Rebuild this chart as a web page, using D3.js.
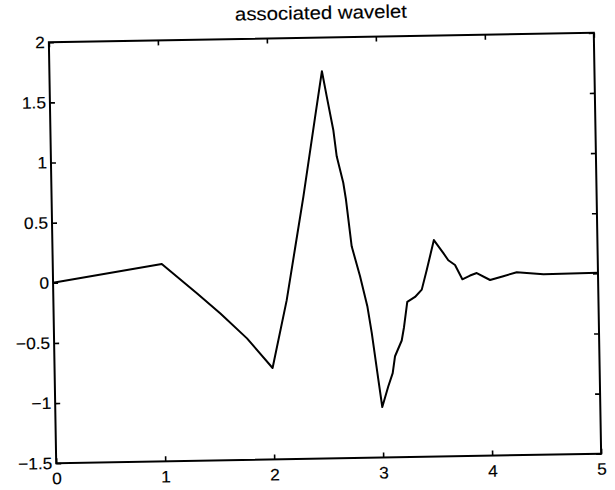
<!DOCTYPE html>
<html>
<head>
<meta charset="utf-8">
<script src="https://cdn.jsdelivr.net/npm/d3@7"></script>
<style>
  html, body { margin: 0; padding: 0; background: #fff; }
  svg { display: block; }
  text { font-family: "Liberation Sans", Arial, Helvetica, sans-serif; fill: #000; stroke: #000; stroke-width: 0.15px; }
</style>
</head>
<body>
<svg id="chart" width="615" height="490"></svg>
<script>
// Wavelet samples (position along support, amplitude)
const tValues = [0, 1, 1.32, 1.53, 1.77, 2, 2.14, 2.225, 2.31, 2.43, 2.5,
  2.54, 2.595, 2.622, 2.678, 2.7, 2.745, 2.817, 2.879, 2.915, 2.968, 3,
  3.058, 3.101, 3.125, 3.189, 3.212, 3.246, 3.318, 3.381, 3.429, 3.5,
  3.585, 3.629, 3.69, 3.755, 3.826, 3.888, 4.009, 4.131, 4.255, 4.5, 5];
const psiValues = [0, 0.14, -0.11, -0.28, -0.49, -0.74, -0.18, 0.25, 0.68, 1.34, 1.72,
  1.51, 1.23, 1.01, 0.79, 0.65, 0.26, 0.01, -0.24, -0.46, -0.85, -1.08,
  -0.91, -0.8, -0.66, -0.53, -0.42, -0.21, -0.17, -0.11, 0.05, 0.3,
  0.19, 0.13, 0.09, -0.03, 0.0, 0.02, -0.04, -0.01, 0.02, 0.0, 0.005];
const xTicks = [0, 1, 2, 3, 4, 5];
const yTicks = [-1.5, -1, -0.5, 0, 0.5, 1, 1.5, 2];
const titleText = "associated wavelet";

const svg = d3.select("#chart");
const box = { left: 52.5, right: 597.5, top: 37.5, bottom: 458.5 };
const widenTitle = 1.1;  // title glyphs are set slightly wide
const widenTick = 1.05;

// whole figure is tilted slightly counter-clockwise
const g = svg.append("g").attr("transform", "rotate(-1, 325, 248)");

const x = d3.scaleLinear().domain([0, 5]).range([box.left, box.right]);
const y = d3.scaleLinear().domain([-1.5, 2]).range([box.bottom, box.top]);

const fmt = d => d3.format("")(d).replace("-", "\u2212");

// title
g.append("text")
  .attr("transform", `translate(${(box.left + box.right) / 2},19) scale(${widenTitle},1)`)
  .attr("text-anchor", "middle")
  .style("font-size", "18.5px")
  .text(titleText);

// inward ticks on all four sides
const tickLen = 5;
const axisStyle = sel => sel.call(s => s.select(".domain").remove())
  .call(s => s.selectAll("line").attr("stroke", "#000").attr("stroke-width", 1.6));

const bottomAxis = g.append("g")
  .attr("transform", `translate(0,${box.bottom})`)
  .call(d3.axisBottom(x).tickValues(xTicks).tickSizeInner(-tickLen).tickSizeOuter(0).tickFormat(fmt));
axisStyle(bottomAxis);
bottomAxis.selectAll("text")
  .style("font-size", "16.5px")
  .attr("y", null).attr("dy", 0)
  .attr("transform", `translate(0,21) scale(${widenTick},1)`);

const topAxis = g.append("g")
  .attr("transform", `translate(0,${box.top})`)
  .call(d3.axisTop(x).tickValues(xTicks).tickSizeInner(-tickLen).tickSizeOuter(0).tickFormat(""));
axisStyle(topAxis);

const leftAxis = g.append("g")
  .attr("transform", `translate(${box.left},0)`)
  .call(d3.axisLeft(y).tickValues(yTicks).tickSizeInner(-tickLen).tickSizeOuter(0).tickFormat(fmt));
axisStyle(leftAxis);
leftAxis.selectAll("text")
  .style("font-size", "16.5px")
  .attr("x", null)
  .attr("transform", `translate(-4,0) scale(${widenTick},1)`);

const rightAxis = g.append("g")
  .attr("transform", `translate(${box.right},0)`)
  .call(d3.axisRight(y).tickValues(yTicks).tickSizeInner(-tickLen).tickSizeOuter(0).tickFormat(""));
axisStyle(rightAxis);

// frame
g.append("rect")
  .attr("x", box.left).attr("y", box.top)
  .attr("width", box.right - box.left).attr("height", box.bottom - box.top)
  .attr("fill", "none").attr("stroke", "#000").attr("stroke-width", 2);

// wavelet curve
const pts = tValues.map((t, i) => [t, psiValues[i]]);
g.append("path")
  .datum(pts)
  .attr("fill", "none")
  .attr("stroke", "#000")
  .attr("stroke-width", 2)
  .attr("stroke-linejoin", "round")
  .attr("d", d3.line().x(d => x(d[0])).y(d => y(d[1])));
</script>
</body>
</html>
